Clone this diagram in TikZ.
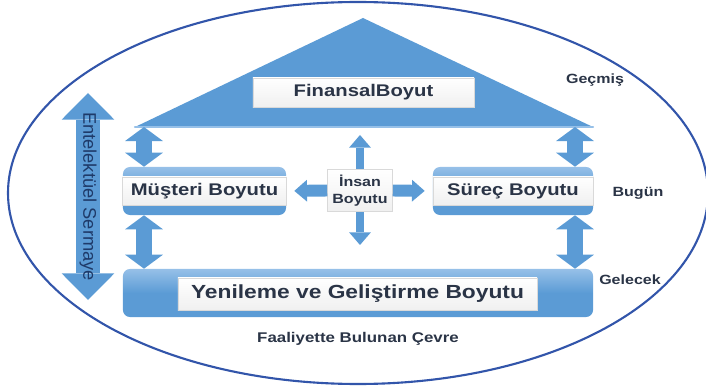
\documentclass[tikz,border=0pt]{standalone}
\usepackage{fontspec}
\setmainfont{Liberation Sans}[FakeStretch=1.2]
\newfontfamily\entfont{Liberation Sans}
\usepackage{xcolor}
\usetikzlibrary{arrows.meta, positioning, calc}

\definecolor{dimblue}{RGB}{91,155,213}
\definecolor{dimblueL}{RGB}{150,192,232}
\definecolor{rimblue}{RGB}{50,85,170}
\definecolor{lbltext}{RGB}{42,52,70}
\definecolor{entnavy}{RGB}{30,58,105}

\tikzset{
  dimbar/.style={rounded corners=5pt, top color=dimblueL, bottom color=dimblue, middle color=dimblue, minimum height=1.2cm, inner sep=0pt},
  dimlabel/.style={draw=gray!30, top color=white, bottom color=gray!12, text=lbltext, font=\bfseries, inner sep=0pt, minimum height=0.7cm},
  sidelabel/.style={text=lbltext, font=\bfseries\fontsize{9.5}{11}\selectfont},
  sidearrow/.style={draw=dimblue, line width=11pt, >={Triangle[length=10pt,width=27pt,line width=0pt]}, <->},
  humanarrow/.style={draw=dimblue, >={Triangle[length=9pt,width=15.5pt,line width=0pt]}},
  bigarrow/.style={draw=dimblue, line width=17.7pt, >={Triangle[length=19pt,width=37.6pt,line width=0pt]}, <->}
}

\begin{document}
\begin{tikzpicture}[x=0.025cm, y=-0.025cm]
\useasboundingbox (0,0) rectangle (706,387);

% operating environment
\draw[rimblue, line width=1.5pt] (358,193) ellipse [x radius=350, y radius=191];
\node[sidelabel, font=\bfseries\fontsize{10}{12}\selectfont] (cevre) at (358,339) {Faaliyette Bulunan Çevre};

% roof
\coordinate (apex) at (363,18);
\coordinate (eaveL) at (135,127);
\coordinate (eaveR) at (593,127);
\fill[dimblue] (eaveL) -- (apex) -- (eaveR) -- cycle;
\draw[dimblueL, line width=1.5pt, line cap=round] (eaveL) -- (eaveR);
\node[dimlabel, minimum width=5.525cm, minimum height=0.725cm, font=\bfseries\fontsize{12}{14}\selectfont] (finansal) at (363.5,92.5) {FinansalBoyut};

% middle floor
\node[dimbar, minimum width=4.075cm] (musteriBar) at (204.5,191) {};
\node[dimlabel, minimum width=4.1cm, font=\bfseries\fontsize{12}{14}\selectfont] (musteri) at (musteriBar) {Müşteri Boyutu};
\node[dimbar, minimum width=4cm] (surecBar) at (513,191) {};
\node[dimlabel, minimum width=4cm, font=\bfseries\fontsize{12}{14}\selectfont] (surec) at (surecBar) {Süreç Boyutu};

% human dimension in the middle
\coordinate (humanTop) at (360,135);
\coordinate (humanBot) at (360,245);
\draw[humanarrow, line width=5.7pt, <->] (humanTop) -- (humanBot);
\node[dimlabel, minimum width=1.625cm, minimum height=1.05cm, align=center, font=\bfseries\fontsize{9.5}{12}\selectfont] (insan) at (360,190.5) {İnsan\\Boyutu};
\draw[humanarrow, line width=8.5pt, ->, shorten >=5.7pt] (insan.west) -- (musteriBar.east);
\draw[humanarrow, line width=8.5pt, ->, shorten >=5.7pt] (insan.east) -- (surecBar.west);

% foundation
\node[dimbar, minimum width=11.75cm] (yenilemeBar) at (358,293) {};
\node[dimlabel, minimum width=8.975cm, minimum height=0.8cm, font=\bfseries\fontsize{13.5}{16}\selectfont] (yenileme) at (357.5,294) {Yenileme ve Geliştirme Boyutu};

% posts between the floors
\coordinate (postL) at (144,127);
\coordinate (postR) at (575,127);
\foreach \post/\room in {postL/musteriBar, postR/surecBar} {
    \draw[sidearrow] (\post) -- (\post |- \room.north);
    \draw[sidearrow] (\post |- \room.south) -- (\post |- yenilemeBar.north);
}

% time axis
\node[sidelabel] (gecmis) at (595,80) {Geçmiş};
\node[sidelabel] (bugun) at (638,193) {Bugün};
\node[sidelabel] (gelecek) at (630,280) {Gelecek};

% intellectual capital
\coordinate (entTop) at (88,93);
\coordinate (entBot) at (88,300);
\draw[bigarrow] (entTop) -- node[text=entnavy, rotate=-90, font=\entfont\fontsize{13}{15}\selectfont] (ent) {Entelektüel Sermaye} (entBot);
\end{tikzpicture}
\end{document}
